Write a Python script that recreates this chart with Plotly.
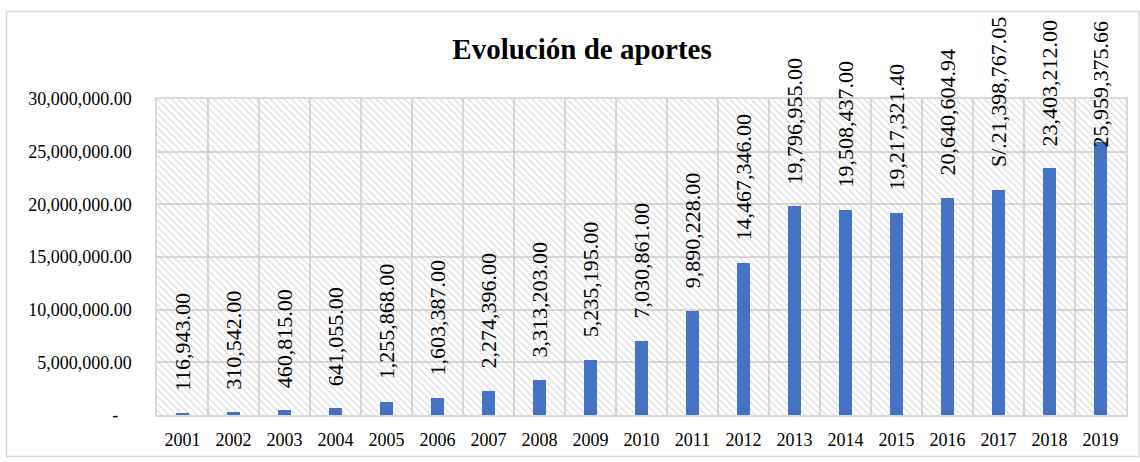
import plotly.graph_objects as go

years = ["2001", "2002", "2003", "2004", "2005", "2006", "2007", "2008", "2009", "2010",
         "2011", "2012", "2013", "2014", "2015", "2016", "2017", "2018", "2019"]
aportes = [116943.00, 310542.00, 460815.00, 641055.00, 1255868.00, 1603387.00, 2274396.00,
           3313203.00, 5235195.00, 7030861.00, 9890228.00, 14467346.00, 19796955.00,
           19508437.00, 19217321.40, 20640604.94, 21398767.05, 23403212.00, 25959375.66]
label_prefix = {"2017": "S/."}
y_ticks = [0, 5e6, 10e6, 15e6, 20e6, 25e6, 30e6]
y_ticktext = ["-\u00a0\u00a0\u00a0"] + [f"{v:,.2f}" for v in y_ticks[1:]]
y_max = 30e6

FONT = "Liberation Serif"
BLUE = "#4472C4"
GRID = "#d9d9d9"

fig = go.Figure()

# hatched plot-area background
fig.add_trace(
    go.Bar(
        x=years,
        y=[y_max] * len(years),
        width=1,
        marker=dict(
            color="rgba(0,0,0,0)",
            line=dict(width=0),
            pattern=dict(shape="\\", fgcolor="#c4c4c4", size=5, solidity=0.3, fillmode="overlay"),
        ),
        hoverinfo="skip",
        showlegend=False,
    )
)
fig.add_trace(
    go.Bar(
        x=years,
        y=aportes,
        width=0.27,
        marker=dict(color=BLUE, line=dict(width=0)),
        showlegend=False,
        hovertemplate="%{x}<br>%{y:,.2f}<extra></extra>",
    )
)

# category axis: annotations placed by category index
for i, (yr, v) in enumerate(zip(years, aportes)):
    fig.add_annotation(
        x=i,
        y=v,
        text=label_prefix.get(yr, "") + f"{v:,.2f}",
        textangle=-90,
        xanchor="center",
        yanchor="bottom",
        yshift=20 if v < 25e6 else -8,
        showarrow=False,
        font=dict(family=FONT, size=22, color="black"),
    )

fig.add_shape(
    type="rect", xref="paper", yref="paper",
    x0=-0.1553, x1=1.0134, y0=-0.131, y1=1.2766,
    line=dict(color=GRID, width=1.5), layer="below",
)

fig.update_layout(
    width=1140,
    height=462,
    margin=dict(l=157, r=14, t=99, b=43),
    paper_bgcolor="white",
    plot_bgcolor="white",
    barmode="overlay",
    bargap=0,
    title=dict(
        text="<b>Evolución de aportes</b>",
        x=(582 - 157) / 969, xref="paper", xanchor="center",
        y=0.895, yanchor="middle",
        font=dict(family=FONT, size=29, color="black"),
    ),
    font=dict(family=FONT, size=18, color="black"),
)

fig.update_xaxes(
    type="category",
    range=[-0.5, len(years) - 0.5],
    tickson="boundaries",
    showgrid=True,
    gridcolor=GRID,
    gridwidth=1.5,
    showline=True,
    linecolor=GRID,
    linewidth=1.5,
    mirror=True,
    ticks="",
    tickangle=0,
    ticklabelstandoff=8,
    tickfont=dict(family=FONT, size=18, color="black"),
)
fig.update_yaxes(
    range=[0, y_max],
    tickvals=y_ticks,
    ticktext=y_ticktext,
    showgrid=True,
    gridcolor=GRID,
    gridwidth=1.5,
    zeroline=False,
    showline=True,
    linecolor=GRID,
    linewidth=1.5,
    mirror=True,
    ticks="",
    ticklabelstandoff=20,
    tickfont=dict(family=FONT, size=18, color="black"),
)

fig.write_html(
    "out.html",
    config={"displayModeBar": False},
    post_script="document.body.style.margin='0';",
)
